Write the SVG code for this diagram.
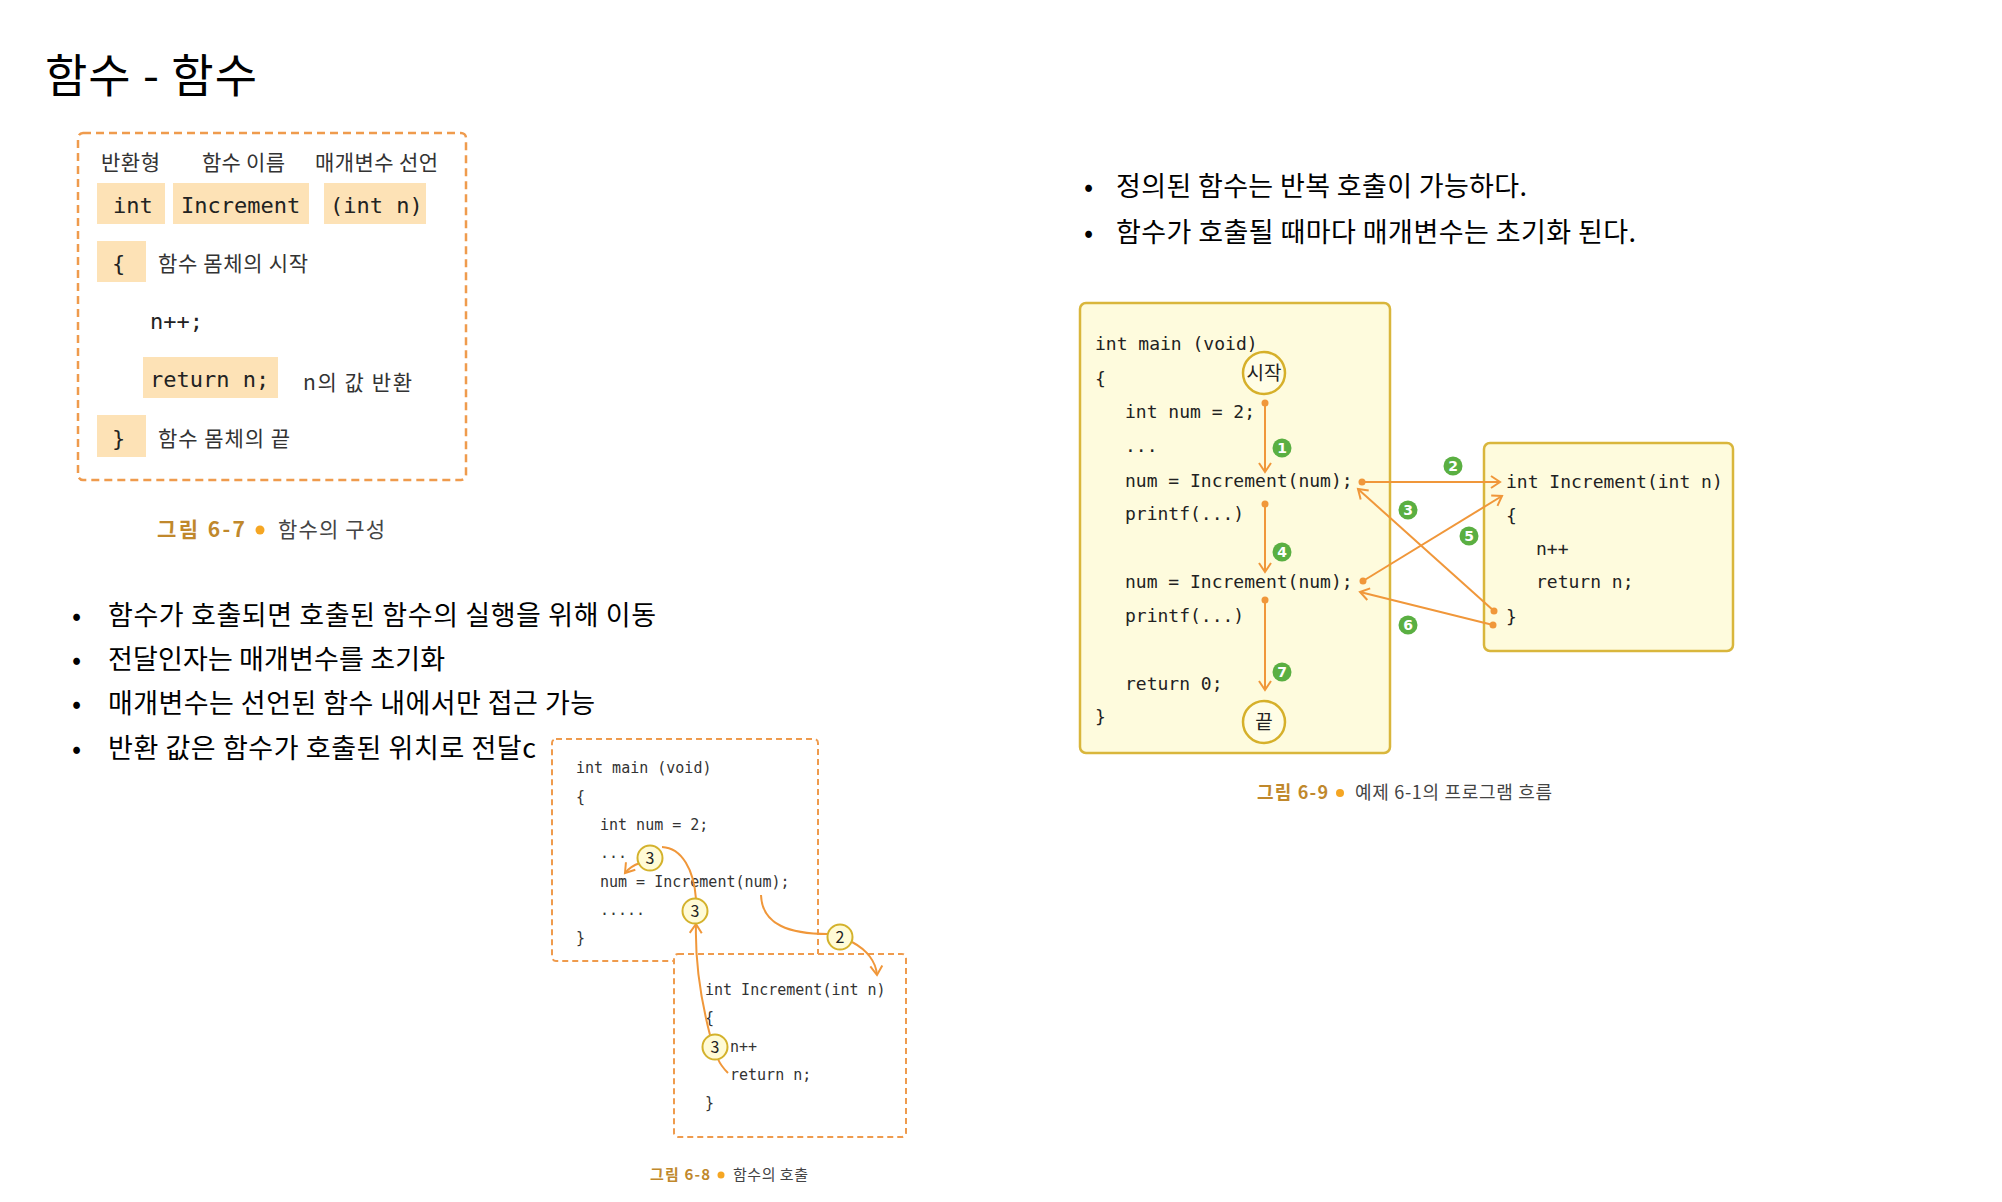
<svg xmlns="http://www.w3.org/2000/svg" width="2002" height="1202" viewBox="0 0 2002 1202">
<style>
.kr{font-family:"Noto Sans CJK KR","Noto Sans",sans-serif;}
.mono{font-family:"DejaVu Sans Mono","Liberation Mono",monospace;}
.t{fill:#000;font-size:27px;}
.hd{fill:#333;font-size:21px;}
.m22{font-size:22px;fill:#222;}
.m15{font-size:15px;fill:#333;}
.m18{font-size:18px;fill:#222;}
.capb{font-weight:bold;fill:#c0882c;}
.capt{fill:#444;}
.peach{fill:#fde2b6;}
.dash{fill:none;stroke:#ef9b4d;stroke-width:2.5;stroke-dasharray:8 5;}
.dash2{stroke:#ef9b4d;stroke-width:2;stroke-dasharray:6 4;}
.ybox{fill:#fefbdd;stroke:#d9b63c;stroke-width:2.5;}
.ycirc{fill:#fffbd6;stroke:#d4b22c;stroke-width:2;}
.gc{fill:#5aaf42;}
.gt{fill:#fff;font-size:14px;font-weight:bold;font-family:"DejaVu Sans",sans-serif;text-anchor:middle;}
.arr{fill:none;stroke:#f0973a;stroke-width:2;marker-end:url(#chev);}
.arrn{fill:none;stroke:#f0973a;stroke-width:2;}
.dot{fill:#f0973a;}
</style>
<defs>
<marker id="chev" markerUnits="userSpaceOnUse" markerWidth="24" markerHeight="24" viewBox="-12 -12 24 24" refX="0" refY="0" orient="auto">
<path d="M-9,-6 L0,0 L-9,6" fill="none" stroke="#f0973a" stroke-width="2"/>
</marker>
</defs>
<rect width="2002" height="1202" fill="#fff"/>

<text id="title" class="kr" x="45" y="92" font-size="46" fill="#000" textLength="212">함수 - 함수</text>

<g id="bullets-right" class="kr t">
<text x="1084" y="196">•</text><text x="1116" y="196" textLength="411">정의된 함수는 반복 호출이 가능하다.</text>
<text x="1084" y="242">•</text><text x="1116" y="242" textLength="520">함수가 호출될 때마다 매개변수는 초기화 된다.</text>
</g>

<g id="bullets-left" class="kr t">
<text x="72" y="625">•</text><text x="108" y="625" textLength="548">함수가 호출되면 호출된 함수의 실행을 위해 이동</text>
<text x="72" y="669">•</text><text x="108" y="669" textLength="337">전달인자는 매개변수를 초기화</text>
<text x="72" y="713">•</text><text x="108" y="713" textLength="487">매개변수는 선언된 함수 내에서만 접근 가능</text>
<text x="72" y="758">•</text><text x="108" y="758" textLength="428">반환 값은 함수가 호출된 위치로 전달c</text>
</g>

<!-- Figure 6-7 -->
<g id="fig67">
<rect class="dash" x="78" y="133" width="388" height="347" rx="5"/>
<g class="kr hd">
<text x="101" y="170" textLength="59">반환형</text>
<text x="202" y="170" textLength="83">함수 이름</text>
<text x="315" y="170" textLength="123">매개변수 선언</text>
</g>
<rect class="peach" x="97" y="183" width="68" height="41"/>
<rect class="peach" x="173" y="183" width="136" height="41"/>
<rect class="peach" x="324" y="183" width="102" height="41"/>
<rect class="peach" x="97" y="241" width="49" height="41"/>
<rect class="peach" x="143" y="357" width="135" height="41"/>
<rect class="peach" x="97" y="415" width="49" height="42"/>
<g class="mono m22">
<text x="113" y="213">int</text>
<text x="181" y="213">Increment</text>
<text x="330" y="213">(int n)</text>
<text x="112" y="271">{</text>
<text x="150" y="329">n++;</text>
<text x="150" y="387">return n;</text>
<text x="112" y="446">}</text>
</g>
<g class="kr hd">
<text x="158" y="271" textLength="150">함수 몸체의 시작</text>
<text x="303" y="390" textLength="109">n의 값 반환</text>
<text x="158" y="446" textLength="132">함수 몸체의 끝</text>
</g>
<g class="kr" font-size="21">
<text class="capb" x="157" y="537" textLength="88">그림 6-7</text>
<circle cx="260" cy="530" r="4.5" fill="#f5a623"/>
<text class="capt" x="278" y="537" textLength="107">함수의 구성</text>
</g>
</g>

<!-- Figure 6-8 -->
<g id="fig68-main">
<rect class="dash2" x="552" y="739" width="266" height="222" rx="4" fill="#fff"/>
<g class="mono m15">
<text x="576" y="773">int main (void)</text>
<text x="576" y="802">{</text>
<text x="600" y="830">int num = 2;</text>
<text x="600" y="858">...</text>
<text x="600" y="887">num = Increment(num);</text>
<text x="600" y="915">.....</text>
<text x="576" y="943">}</text>
</g>
</g>
<g id="fig68-inc">
<rect class="dash2" x="674" y="954" width="232" height="183" rx="4" fill="#fff"/>
<g class="mono m15">
<text x="705" y="995">int Increment(int n)</text>
<text x="705" y="1023">{</text>
<text x="730" y="1052">n++</text>
<text x="730" y="1080">return n;</text>
<text x="705" y="1108">}</text>
</g>
</g>
<g id="fig68-connectors">
<path class="arrn" d="M761,895 C762,925 790,934 828,934"/>
<path class="arr" d="M852,942 C867,950 876,962 877,975"/>
<path class="arrn" d="M728,1073 C723,1068 720,1064 718,1059"/>
<path class="arr" d="M710,1035 C701,1000 695,960 696,924"/>
<path class="arrn" d="M696,899 C694,870 682,848 662,847"/>
<path class="arr" d="M640,863 C634,865 629,868 625,873"/>
</g>
<g id="fig68-steps" class="kr" font-size="16" text-anchor="middle" fill="#222">
<circle class="ycirc" cx="650" cy="858" r="12.5"/><text x="650" y="864">3</text>
<circle class="ycirc" cx="695" cy="911" r="12.5"/><text x="695" y="917">3</text>
<circle class="ycirc" cx="715" cy="1047" r="12.5"/><text x="715" y="1053">3</text>
<circle class="ycirc" cx="840" cy="937" r="12.5"/><text x="840" y="943">2</text>
</g>
<g id="fig68-caption" class="kr" font-size="15">
<text class="capb" x="650" y="1180" textLength="60">그림 6-8</text>
<circle cx="721" cy="1175" r="3.5" fill="#f5a623"/>
<text class="capt" x="733" y="1180" textLength="75">함수의 호출</text>
</g>

<!-- Figure 6-9 -->
<g id="fig69-main">
<rect class="ybox" x="1080" y="303" width="310" height="450" rx="6"/>
<g class="mono m18">
<text x="1095" y="350">int main (void)</text>
<text x="1095" y="385">{</text>
<text x="1125" y="418">int num = 2;</text>
<text x="1125" y="452">...</text>
<text x="1125" y="487">num = Increment(num);</text>
<text x="1125" y="520">printf(...)</text>
<text x="1125" y="588">num = Increment(num);</text>
<text x="1125" y="622">printf(...)</text>
<text x="1125" y="690">return 0;</text>
<text x="1095" y="723">}</text>
</g>
</g>
<g id="fig69-inc">
<rect class="ybox" x="1484" y="443" width="249" height="208" rx="6"/>
<g class="mono m18">
<text x="1506" y="488">int Increment(int n)</text>
<text x="1506" y="522">{</text>
<text x="1536" y="555">n++</text>
<text x="1536" y="588">return n;</text>
<text x="1506" y="623">}</text>
</g>
</g>
<g id="fig69-start">
<circle cx="1264" cy="373" r="21" fill="#fffde6" stroke="#d6b02a" stroke-width="2.5"/>
<text class="kr" x="1264" y="380" font-size="19" text-anchor="middle" fill="#222">시작</text>
</g>
<g id="fig69-end">
<circle cx="1264" cy="722" r="21" fill="#fffde6" stroke="#d6b02a" stroke-width="2.5"/>
<text class="kr" x="1264" y="729" font-size="19" text-anchor="middle" fill="#222">끝</text>
</g>
<g id="fig69-connectors">
<line class="arr" x1="1265" y1="403" x2="1265" y2="472"/>
<line class="arr" x1="1265" y1="504" x2="1265" y2="572"/>
<line class="arr" x1="1265" y1="600" x2="1265" y2="690"/>
<line class="arr" x1="1362" y1="482" x2="1500" y2="482"/>
<line class="arr" x1="1363" y1="581" x2="1502" y2="496"/>
<line class="arr" x1="1494" y1="611" x2="1358" y2="489"/>
<line class="arr" x1="1493" y1="625" x2="1360" y2="592"/>
<circle class="dot" cx="1265" cy="403" r="3.5"/>
<circle class="dot" cx="1265" cy="504" r="3.5"/>
<circle class="dot" cx="1265" cy="600" r="3.5"/>
<circle class="dot" cx="1362" cy="482" r="3.5"/>
<circle class="dot" cx="1363" cy="581" r="3.5"/>
<circle class="dot" cx="1494" cy="611" r="3.5"/>
<circle class="dot" cx="1493" cy="625" r="3.5"/>
</g>
<g id="fig69-steps">
<circle class="gc" cx="1282" cy="448" r="9.5"/><text class="gt" x="1282" y="453">1</text>
<circle class="gc" cx="1453" cy="466" r="9.5"/><text class="gt" x="1453" y="471">2</text>
<circle class="gc" cx="1408" cy="510" r="9.5"/><text class="gt" x="1408" y="515">3</text>
<circle class="gc" cx="1282" cy="552" r="9.5"/><text class="gt" x="1282" y="557">4</text>
<circle class="gc" cx="1469" cy="536" r="9.5"/><text class="gt" x="1469" y="541">5</text>
<circle class="gc" cx="1408" cy="625" r="9.5"/><text class="gt" x="1408" y="630">6</text>
<circle class="gc" cx="1282" cy="672" r="9.5"/><text class="gt" x="1282" y="677">7</text>
</g>
<g id="fig69-caption" class="kr" font-size="18">
<text class="capb" x="1257" y="799" textLength="71">그림 6-9</text>
<circle cx="1340" cy="793" r="4" fill="#f5a623"/>
<text class="capt" x="1355" y="799" textLength="197">예제 6-1의 프로그램 흐름</text>
</g>
</svg>
